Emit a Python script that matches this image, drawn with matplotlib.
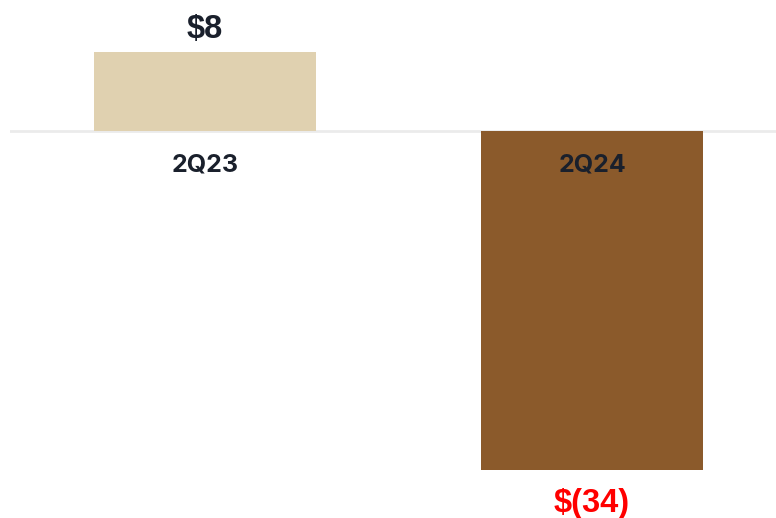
import matplotlib
matplotlib.use("Agg")
import matplotlib.pyplot as plt

categories = ["2Q23", "2Q24"]
values = [8, -34]
value_labels = ["$8", "$(34)"]
bar_colors = ["#E0D1B0", "#8B5A2B"]
label_colors = ["#1A202C", "#FF0000"]

fig = plt.figure(figsize=(7.76, 5.18), dpi=100)
ax = fig.add_axes([10 / 776, 0, 766 / 776, 1])
ax.set_xlim(-0.504, 1.475)
ax.set_ylim(-38.8, 13.2)
ax.axis("off")

ax.axhline(0, color="#EBEBEB", lw=2, zorder=1)
x = list(range(len(categories)))
ax.bar(x, values, width=0.574, color=bar_colors, zorder=2)

for xi, v, lab, col, cat in zip(x, values, value_labels, label_colors, categories):
    if v >= 0:
        ax.annotate(lab, (xi, v), xytext=(0, 5), textcoords="offset points",
                    ha="center", va="bottom", fontsize=23.5, fontweight="bold",
                    color=col, family="Liberation Sans")
    else:
        ax.annotate(lab, (xi, v), xytext=(0, -12.5), textcoords="offset points",
                    ha="center", va="top", fontsize=23.5, fontweight="bold",
                    color=col, family="Liberation Sans")
    ax.annotate(cat, (xi, 0), xytext=(0, -24), textcoords="offset points",
                ha="center", va="center", fontsize=18, fontweight="bold",
                color="#1A202C", family="Inter")

fig.savefig("out.png", dpi=100)
